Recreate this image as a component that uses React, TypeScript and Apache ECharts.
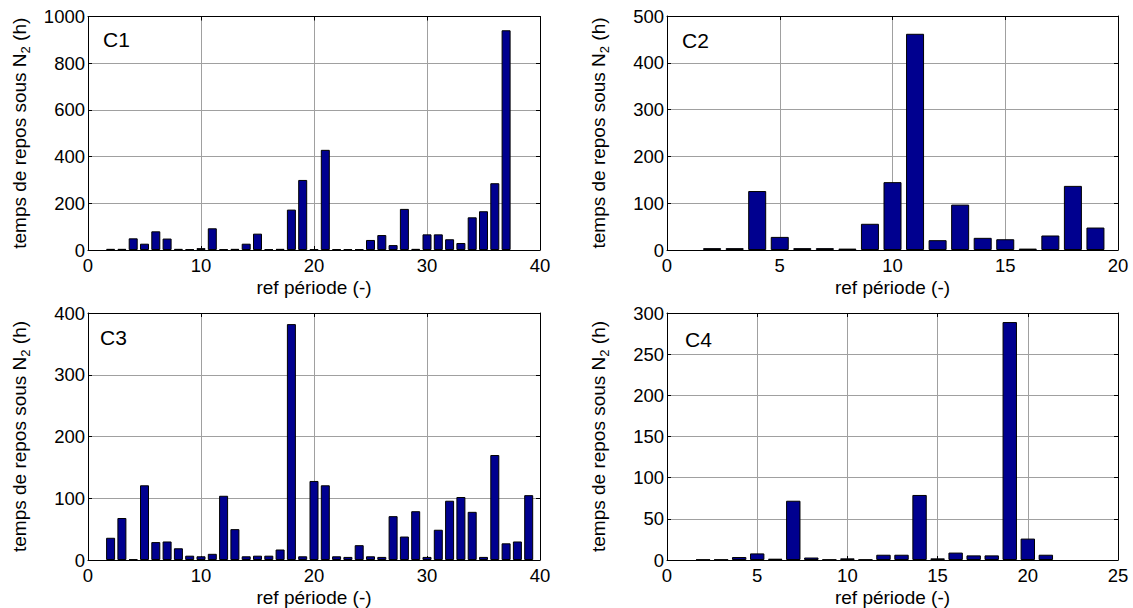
import React, { useEffect, useRef } from "react";
import * as echarts from "echarts";

// Data: values start at x = startX and go up by 1
const c1Start = 2;
const c1Values = [5, 5, 50, 27, 80, 49, 5, 3, 8, 93, 3, 5, 27, 70, 3, 5, 173, 300, 3, 429, 3, 3, 3, 43, 64, 21, 176, 5, 67, 67, 46, 30, 140, 166, 286, 941];
const c2Start = 2;
const c2Values = [4, 4, 126, 28, 4, 4, 3, 56, 145, 462, 21, 97, 26, 23, 3, 31, 137, 48];
const c3Start = 2;
const c3Values = [36, 68, 1, 121, 29, 30, 19, 7, 6, 10, 104, 50, 6, 7, 7, 17, 382, 6, 128, 121, 6, 5, 24, 6, 5, 71, 38, 79, 5, 49, 96, 102, 78, 5, 170, 27, 30, 105];
const c4Start = 2;
const c4Values = [0.5, 0.5, 3.6, 8, 1.6, 72, 3, 0.5, 2, 0.5, 6.4, 6.4, 79, 2, 9, 5.6, 5.6, 289, 26, 6.4];

const panelNames = ["C1", "C2", "C3", "C4"];
const xMaxes = [40, 20, 40, 25];
const xSteps = [10, 5, 10, 5];
const yMaxes = [1000, 500, 400, 300];
const ySteps = [200, 100, 100, 50];

const xLabel = "ref période (-)";
const yLabel = "temps de repos sous N{s|2} (h)";

const FONT = "Liberation Sans, Arial, Helvetica, sans-serif";

export default function App() {
  const ref = useRef<HTMLDivElement>(null);

  useEffect(() => {
    document.body.style.margin = "0";
    if (!ref.current) return;
    const chart = echarts.init(ref.current, null, { renderer: "svg" });

    const grids = [
      { left: 88, top: 16.5, width: 452, height: 233.5 },
      { left: 667, top: 16, width: 451, height: 234 },
      { left: 88, top: 313, width: 452, height: 250 },
      { left: 667, top: 313, width: 451, height: 250 },
    ];
    const barWidths = [9, 18, 9, 14.4];
    const starts = [c1Start, c2Start, c3Start, c4Start];
    const values = [c1Values, c2Values, c3Values, c4Values];
    const labelPos = [
      [103, 29],
      [682, 30],
      [100, 327],
      [685, 329],
    ];

    const xAxes: any[] = [];
    const yAxes: any[] = [];
    const series: any[] = [];
    const gridLine = { show: true, lineStyle: { color: "#a0a0a0", width: 1 } };
    const plain = (v: number) => String(v);

    grids.forEach((g, i) => {
      xAxes.push({
        type: "value",
        gridIndex: i,
        position: "bottom",
        min: 0,
        max: xMaxes[i],
        interval: xSteps[i],
        axisLine: { show: true, onZero: false, lineStyle: { color: "#000", width: 1 } },
        axisTick: { show: true, inside: true, length: 4, lineStyle: { color: "#000" } },
        axisLabel: { color: "#000", fontSize: 18.5, fontFamily: FONT, margin: 6, formatter: plain },
        splitLine: gridLine,
        name: xLabel,
        nameLocation: "middle",
        nameGap: 28,
        nameTextStyle: { color: "#000", fontSize: 19, fontFamily: FONT },
      });
      xAxes.push({
        type: "value",
        gridIndex: i,
        position: "top",
        min: 0,
        max: xMaxes[i],
        interval: xSteps[i],
        axisLine: { show: true, onZero: false, lineStyle: { color: "#000", width: 1 } },
        axisTick: { show: true, inside: true, length: 4, lineStyle: { color: "#000" } },
        axisLabel: { show: false },
        splitLine: { show: false },
      });
      yAxes.push({
        type: "value",
        gridIndex: i,
        position: "left",
        min: 0,
        max: yMaxes[i],
        interval: ySteps[i],
        axisLine: { show: true, onZero: false, lineStyle: { color: "#000", width: 1 } },
        axisTick: { show: true, inside: true, length: 4, lineStyle: { color: "#000" } },
        axisLabel: { color: "#000", fontSize: 18.5, fontFamily: FONT, margin: 3, formatter: plain },
        splitLine: gridLine,
        name: yLabel,
        nameLocation: "middle",
        nameGap: 56,
        nameTextStyle: {
          color: "#000",
          fontSize: 19,
          fontFamily: FONT,
          rich: {
            s: { fontSize: 13, fontFamily: FONT, color: "#000", verticalAlign: "bottom", lineHeight: 26 },
          },
        },
      });
      yAxes.push({
        type: "value",
        gridIndex: i,
        position: "right",
        min: 0,
        max: yMaxes[i],
        interval: ySteps[i],
        axisLine: { show: true, onZero: false, lineStyle: { color: "#000", width: 1 } },
        axisTick: { show: true, inside: true, length: 4, lineStyle: { color: "#000" } },
        axisLabel: { show: false },
        splitLine: { show: false },
      });
      series.push({
        type: "bar",
        xAxisIndex: i * 2,
        yAxisIndex: i * 2,
        barWidth: barWidths[i],
        data: values[i].map((v, k) => [starts[i] + k, v]),
        itemStyle: { color: "#00008f", borderColor: "#000", borderWidth: 1 },
        z: 3,
      });
    });

    chart.setOption({
      animation: false,
      backgroundColor: "#fff",
      grid: grids.map((g) => ({ ...g, show: false })),
      xAxis: xAxes,
      yAxis: yAxes,
      series,
      graphic: panelNames.map((n, i) => ({
        type: "text",
        left: labelPos[i][0],
        top: labelPos[i][1],
        style: { text: n, fontSize: 21, fontFamily: FONT, fill: "#000" },
        z: 10,
      })),
    });

    return () => chart.dispose();
  }, []);

  return <div ref={ref} style={{ width: 1133, height: 608 }} />;
}
